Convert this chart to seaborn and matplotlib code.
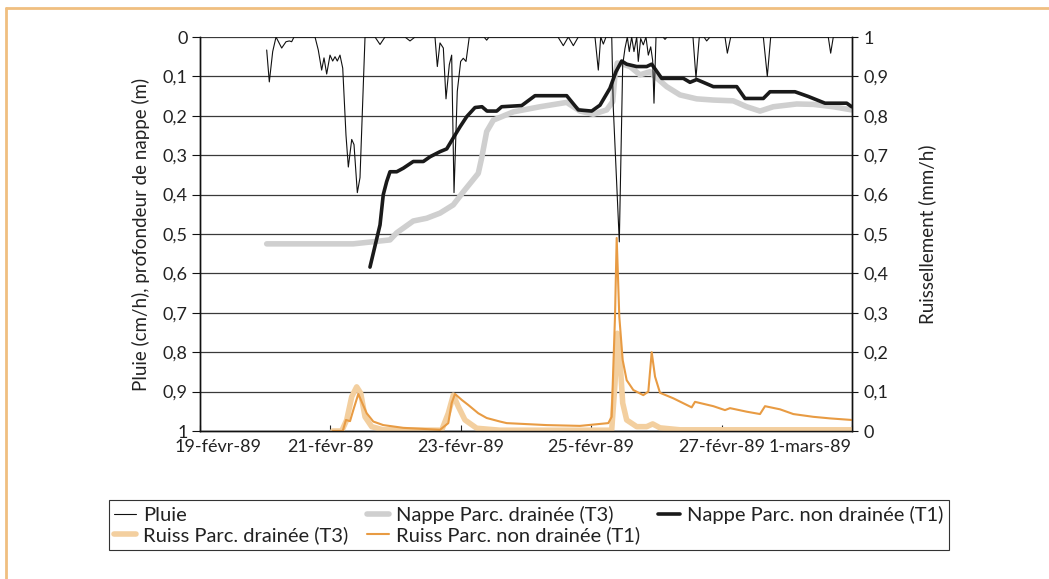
import matplotlib
matplotlib.use("Agg")
import matplotlib.pyplot as plt
import matplotlib.transforms as mtransforms
from matplotlib.lines import Line2D
import pandas as pd
import seaborn as sns

# time in days after 19-févr-89 00:00
pluie_t = [1.023, 1.063, 1.115, 1.166, 1.253, 1.319, 1.370, 1.406, 1.442, 1.764,
           1.814, 1.866, 1.902, 1.943, 1.994, 2.035, 2.071, 2.106, 2.147, 2.189,
           2.239, 2.275, 2.327, 2.362, 2.413, 2.454, 2.531, 2.684, 2.761, 2.837,
           3.144, 3.221, 3.298, 3.604, 3.640, 3.681, 3.732, 3.773, 3.824, 3.860,
           3.896, 3.946, 3.998, 4.038, 4.080, 4.130, 4.356, 4.397, 4.433, 5.491,
           5.572, 5.649, 5.726, 5.802, 6.058, 6.109, 6.146, 6.186, 6.227, 6.315,
           6.339, 6.431, 6.483, 6.518, 6.554, 6.584, 6.621, 6.656, 6.698, 6.722,
           6.759, 6.799, 6.840, 6.876, 6.913, 6.943, 6.963, 6.994, 7.101, 7.132,
           7.163, 7.561, 7.607, 7.658, 7.730, 7.771, 7.822, 8.052, 8.088, 8.140,
           8.640, 8.701, 8.753, 9.636, 9.673, 9.713, 10.0]
pluie_v = [0.033, 0.114, 0.037, 0.0, 0.028, 0.012, 0.010, 0.012, 0.0, 0.0,
           0.033, 0.084, 0.053, 0.094, 0.046, 0.061, 0.050, 0.061, 0.046, 0.079,
           0.249, 0.330, 0.260, 0.273, 0.395, 0.357, 0.0, 0.0, 0.019, 0.0,
           0.0, 0.010, 0.0, 0.0, 0.075, 0.015, 0.028, 0.157, 0.070, 0.046,
           0.395, 0.138, 0.062, 0.054, 0.062, 0.0, 0.0, 0.008, 0.0, 0.0,
           0.022, 0.0, 0.022, 0.0, 0.0, 0.084, 0.0, 0.018, 0.0, 0.0,
           0.180, 0.520, 0.071, 0.029, 0.0, 0.037, 0.0, 0.037, 0.0, 0.062,
           0.004, 0.020, 0.0, 0.046, 0.025, 0.060, 0.168, 0.0, 0.0, 0.006,
           0.0, 0.0, 0.104, 0.0, 0.0, 0.010, 0.0, 0.0, 0.041, 0.0,
           0.0, 0.100, 0.0, 0.0, 0.041, 0.0, 0.0]

nappe_d_t = [1.023, 2.351, 2.914, 3.017, 3.271, 3.477, 3.681, 3.885, 4.038, 4.268,
             4.320, 4.397, 4.499, 4.601, 4.805, 5.215, 5.624, 5.828, 6.032, 6.238,
             6.330, 6.365, 6.400, 6.468, 6.595, 6.748, 6.902, 7.005, 7.158, 7.362,
             7.618, 7.873, 8.179, 8.385, 8.589, 8.793, 9.152, 9.406, 9.713, 9.995]
nappe_d_v = [0.525, 0.525, 0.515, 0.497, 0.467, 0.460, 0.447, 0.426, 0.393, 0.346,
             0.307, 0.240, 0.211, 0.204, 0.190, 0.177, 0.166, 0.188, 0.196, 0.185,
             0.164, 0.096, 0.066, 0.068, 0.075, 0.096, 0.088, 0.104, 0.126, 0.147,
             0.157, 0.160, 0.162, 0.177, 0.188, 0.177, 0.170, 0.171, 0.177, 0.185]

nappe_nd_t = [2.607, 2.761, 2.811, 2.863, 2.914, 3.017, 3.118, 3.271, 3.425, 3.528,
              3.681, 3.784, 3.885, 3.988, 4.091, 4.218, 4.325, 4.402, 4.551, 4.627,
              4.934, 5.138, 5.624, 5.802, 6.008, 6.135, 6.288, 6.380, 6.468, 6.544,
              6.698, 6.851, 6.928, 7.081, 7.413, 7.515, 7.618, 7.719, 7.873, 8.232,
              8.359, 8.640, 8.742, 9.126, 9.330, 9.586, 9.919, 9.995]
nappe_nd_v = [0.584, 0.477, 0.400, 0.367, 0.342, 0.342, 0.333, 0.316, 0.316, 0.304,
              0.291, 0.284, 0.256, 0.228, 0.202, 0.179, 0.177, 0.188, 0.188, 0.177,
              0.174, 0.149, 0.149, 0.185, 0.188, 0.173, 0.130, 0.088, 0.061, 0.069,
              0.075, 0.075, 0.069, 0.105, 0.105, 0.115, 0.108, 0.115, 0.126, 0.126,
              0.156, 0.156, 0.139, 0.139, 0.151, 0.168, 0.168, 0.177]

ruiss_d_t = [2.035, 2.173, 2.250, 2.327, 2.403, 2.465, 2.531, 2.633, 2.811, 3.707,
             3.808, 3.885, 3.962, 4.064, 4.244, 4.601, 6.314, 6.365, 6.400, 6.442,
             6.483, 6.544, 6.698, 6.851, 6.943, 7.055, 7.362, 9.995]
ruiss_d_v = [0.0, 0.0, 0.028, 0.087, 0.112, 0.096, 0.036, 0.011, 0.003, 0.002,
             0.045, 0.091, 0.062, 0.028, 0.007, 0.002, 0.002, 0.120, 0.248, 0.180,
             0.071, 0.028, 0.011, 0.011, 0.018, 0.008, 0.003, 0.003]

ruiss_nd_t = [2.035, 2.189, 2.239, 2.301, 2.351, 2.428, 2.480, 2.557, 2.658, 2.811,
              3.118, 3.681, 3.808, 3.860, 3.911, 4.014, 4.115, 4.268, 4.397, 4.601,
              4.704, 5.317, 5.828, 6.262, 6.314, 6.365, 6.391, 6.431, 6.483, 6.544,
              6.646, 6.799, 6.876, 6.928, 6.979, 7.055, 7.259, 7.541, 7.592, 7.873,
              8.052, 8.129, 8.385, 8.589, 8.666, 8.896, 9.100, 9.406, 9.663, 9.995]
ruiss_nd_v = [0.0, 0.0, 0.028, 0.025, 0.053, 0.094, 0.074, 0.045, 0.024, 0.015,
              0.008, 0.003, 0.020, 0.071, 0.094, 0.079, 0.066, 0.045, 0.033, 0.024,
              0.020, 0.015, 0.013, 0.020, 0.036, 0.290, 0.490, 0.290, 0.180, 0.129,
              0.104, 0.091, 0.100, 0.200, 0.138, 0.097, 0.083, 0.060, 0.074, 0.063,
              0.053, 0.058, 0.049, 0.043, 0.063, 0.055, 0.043, 0.036, 0.032, 0.028]

tick_days = [0, 2, 4, 6, 8, 10]
tick_labels = ["19-févr-89", "21-févr-89", "23-févr-89", "25-févr-89",
               "27-févr-89", "1-mars-89"]

start = pd.Timestamp("1989-02-19")


def to_dates(days):
    return start + pd.to_timedelta(days, unit="D")


sns.set_style("white")
plt.rcParams["font.family"] = ["Lato", "DejaVu Sans"]

fig = plt.figure(figsize=(10.49, 5.79), dpi=100)
ax = fig.add_axes([200 / 1049, 1 - 431 / 579, 652 / 1049, 394 / 579])
ax2 = ax.twinx()

sns.lineplot(x=to_dates(nappe_d_t), y=nappe_d_v, ax=ax, color="#cfcfcf",
             lw=4, estimator=None, label="Nappe Parc. drainée (T3)")
sns.lineplot(x=to_dates(nappe_nd_t), y=nappe_nd_v, ax=ax, color="#1a1a1a",
             lw=2.6, estimator=None, label="Nappe Parc. non drainée (T1)")
sns.lineplot(x=to_dates(pluie_t), y=pluie_v, ax=ax, color="#111111",
             lw=0.8, estimator=None, label="Pluie")
sns.lineplot(x=to_dates(ruiss_d_t), y=ruiss_d_v, ax=ax2, color="#f3cf9f",
             lw=4, estimator=None, label="Ruiss Parc. drainée (T3)")
sns.lineplot(x=to_dates(ruiss_nd_t), y=ruiss_nd_v, ax=ax2, color="#e89b43",
             lw=1.5, estimator=None, label="Ruiss Parc. non drainée (T1)")

h1, l1 = ax.get_legend_handles_labels()
h2, l2 = ax2.get_legend_handles_labels()
ax.get_legend().remove()
ax2.get_legend().remove()
hd = dict(zip(l1 + l2, h1 + h2))
order = ["Pluie", "Ruiss Parc. drainée (T3)", "Nappe Parc. drainée (T3)",
         "Ruiss Parc. non drainée (T1)", "Nappe Parc. non drainée (T1)"]
leg = fig.legend([hd[k] for k in order], order, loc="center",
                 bbox_to_anchor=(529 / 1049, 1 - 525 / 579), ncol=3,
                 frameon=True, fancybox=False, framealpha=1,
                 edgecolor="#333333", fontsize=14.5, handlelength=1.1,
                 handletextpad=0.35, columnspacing=0.9, borderpad=0.25,
                 labelspacing=0.15)
leg.get_frame().set_linewidth(0.8)
for t in leg.get_texts():
    t.set_color("#222222")

# left axis: rain / water table depth (inverted)
ax.set_ylim(1, 0)
ax.set_yticks([i / 10 for i in range(11)])
ax.set_yticklabels(["0"] + ["0," + str(i) for i in range(1, 10)] + ["1"])
ax.set_ylabel("Pluie (cm/h), profondeur de nappe (m)", fontsize=13.5,
              labelpad=9, color="#222222")
ax.grid(axis="y", color="#3a3a3a", lw=0.9)
ax.grid(axis="x", visible=False)
ax.set_xlabel("")

# right axis: runoff
ax2.set_ylim(0, 1)
ax2.set_yticks([i / 10 for i in range(11)])
ax2.set_yticklabels(["0"] + ["0," + str(i) for i in range(1, 10)] + ["1"])
ax2.set_ylabel("Ruissellement (mm/h)", fontsize=13.5, labelpad=22, color="#222222")
ax2.grid(False)

ax.set_xlim(start, to_dates(10))
ax.set_xticks(to_dates(tick_days))
ax.set_xticklabels(tick_labels)

for a in (ax, ax2):
    a.spines["top"].set_visible(False)
    for s in ("left", "right", "bottom"):
        a.spines[s].set_color("#111111")
        a.spines[s].set_linewidth(1.0)
    a.tick_params(axis="y", labelsize=13, colors="#111111", labelcolor="#222222")

ax.tick_params(axis="y", direction="out", length=6, width=0.8, left=True, pad=3)
ax2.tick_params(axis="y", direction="out", length=4, width=0.8, right=True, pad=4)
ax.tick_params(axis="x", direction="in", length=4, width=0.8, bottom=True,
               labelsize=13, labelcolor="#222222", pad=6)

xlabels = ax.get_xticklabels()
xlabels[0].set_ha("left")
xlabels[0].set_transform(xlabels[0].get_transform() +
                         mtransforms.ScaledTranslation(-0.25, 0, fig.dpi_scale_trans))
xlabels[-1].set_ha("right")

# tan frame on top and left of the figure
fig.add_artist(Line2D([6 / 1049, 1], [1 - 8 / 579] * 2, transform=fig.transFigure,
                      color="#f0bf80", lw=2))
fig.add_artist(Line2D([6 / 1049] * 2, [0, 1 - 8 / 579], transform=fig.transFigure,
                      color="#f0bf80", lw=2))

fig.savefig("out.png", dpi=100)
